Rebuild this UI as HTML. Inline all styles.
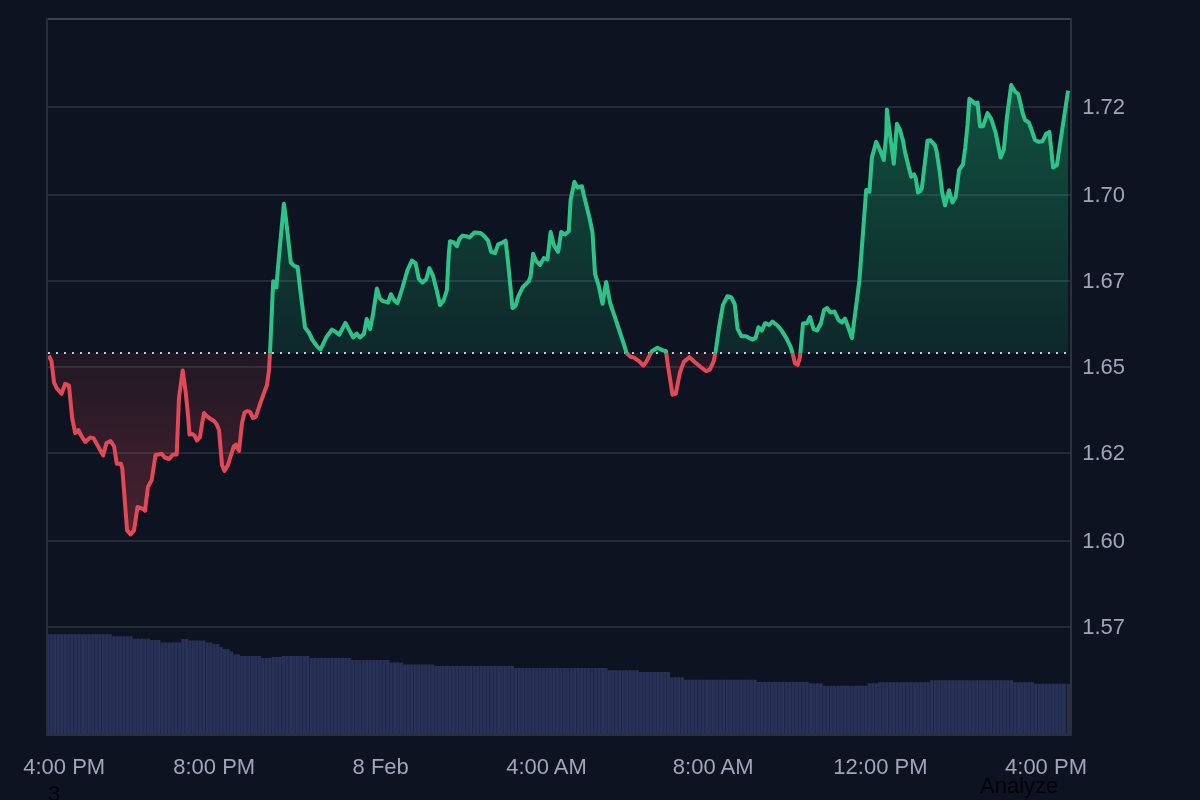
<!DOCTYPE html>
<html><head><meta charset="utf-8"><style>
html,body{margin:0;padding:0;background:#0d1320;width:1200px;height:800px;overflow:hidden}
svg{position:absolute;left:0;top:0;display:block;will-change:transform}
.ft{will-change:transform}
.ax text{font-family:"Liberation Sans",Arial,sans-serif;font-size:22px;fill:#a0a6ba}
.ft{position:absolute;font-family:"Liberation Sans",Arial,sans-serif;font-size:22px;color:#020408;line-height:1;white-space:nowrap}
</style></head><body>
<svg width="1200" height="800" viewBox="0 0 1200 800">
<defs>
<linearGradient id="gg" gradientUnits="userSpaceOnUse" x1="0" y1="85" x2="0" y2="353.0">
<stop offset="0" stop-color="#18be78" stop-opacity="0.36"/>
<stop offset="1" stop-color="#18be78" stop-opacity="0.12"/>
</linearGradient>
<linearGradient id="rg" gradientUnits="userSpaceOnUse" x1="0" y1="353.0" x2="0" y2="535">
<stop offset="0" stop-color="#e34856" stop-opacity="0.09"/>
<stop offset="1" stop-color="#e34856" stop-opacity="0.28"/>
</linearGradient>
<clipPath id="top"><rect x="0" y="0" width="1200" height="353.0"/></clipPath>
<clipPath id="bot"><rect x="0" y="353.0" width="1200" height="447.0"/></clipPath>
<pattern id="vb" patternUnits="userSpaceOnUse" x="45.62" y="0" width="3.4667" height="800">
<rect x="0" y="0" width="3.4667" height="800" fill="#283157"/>
<rect x="0" y="0" width="0.9" height="800" fill="#1f2747"/>
</pattern>
</defs>
<rect x="0" y="0" width="1200" height="800" fill="#0d1320"/>
<rect x="48" y="106" width="1022" height="2" fill="#252a37"/><rect x="48" y="194" width="1022" height="2" fill="#252a37"/><rect x="48" y="280" width="1022" height="2" fill="#252a37"/><rect x="48" y="366" width="1022" height="2" fill="#252a37"/><rect x="48" y="452" width="1022" height="2" fill="#252a37"/><rect x="48" y="540" width="1022" height="2" fill="#252a37"/><rect x="48" y="626" width="1022" height="2" fill="#252a37"/>
<path d="M47,735 L47,634.2 L111.94,634.2 L111.94,636.2 L132.74,636.2 L132.74,638.7 L150.07,638.7 L150.07,640 L160.47,640 L160.47,642.6 L181.27,642.6 L181.27,639 L188.2,639 L188.2,640.4 L205.54,640.4 L205.54,642.4 L212.47,642.4 L212.47,644 L219.41,644 L219.41,647 L222.87,647 L222.87,649 L229.81,649 L229.81,651.6 L233.27,651.6 L233.27,654.4 L240.21,654.4 L240.21,656 L261.01,656 L261.01,658 L271.41,658 L271.41,657 L281.81,657 L281.81,656 L309.54,656 L309.54,658 L351.14,658 L351.14,660 L389.27,660 L389.27,662.4 L403.14,662.4 L403.14,664.4 L434.34,664.4 L434.34,666 L514.07,666 L514.07,668 L607.68,668 L607.68,670.3 L638.88,670.3 L638.88,672 L670.08,672 L670.08,677.3 L683.94,677.3 L683.94,679.8 L756.74,679.8 L756.74,682 L808.74,682 L808.74,683.3 L822.61,683.3 L822.61,685.8 L867.68,685.8 L867.68,683.3 L878.08,683.3 L878.08,682.2 L930.08,682.2 L930.08,680.2 L1013.28,680.2 L1013.28,682.2 L1034.08,682.2 L1034.08,683.7 L1066.4,683.7 L1066.4,735 Z" fill="url(#vb)"/>
<rect x="1066.9" y="684" width="3.1" height="51" fill="#2a3044"/>
<path d="M48.8,355.6 L51.5,361.2 L54.0,382.5 L57.1,388.8 L61.5,393.8 L65.2,383.8 L69.0,385.6 L72.1,417.5 L75.2,433.1 L78.4,430.0 L81.5,436.2 L85.2,441.9 L90.2,437.5 L93.4,438.1 L98.2,446.5 L103.1,455.4 L106.5,443.0 L110.6,441.0 L114.1,446.5 L116.8,463.7 L121.0,463.7 L122.3,468.5 L127.1,530.4 L130.6,534.5 L134.0,530.4 L137.5,507.0 L138.2,507.0 L142.0,508.5 L145.0,510.7 L148.0,486.7 L151.7,480.0 L155.5,455.0 L158.0,454.5 L161.7,453.7 L164.7,457.5 L169.2,459.0 L173.0,454.5 L176.7,454.5 L179.0,397.5 L182.7,370.5 L185.7,392.2 L188.0,415.0 L189.5,434.5 L192.5,434.0 L194.5,435.5 L197.0,440.5 L200.0,437.0 L202.0,424.0 L204.0,413.0 L206.5,416.0 L210.0,418.5 L214.0,421.0 L216.5,424.0 L219.0,430.0 L222.0,465.0 L224.5,471.0 L228.0,465.0 L231.0,455.0 L234.0,446.0 L236.0,444.5 L239.0,451.0 L240.5,437.0 L242.0,423.0 L244.5,412.5 L247.5,411.0 L250.0,412.0 L253.0,418.0 L256.0,416.5 L260.0,404.0 L264.0,393.0 L267.0,385.0 L269.0,370.0 L270.0,353.0 L273.2,281.2 L276.4,287.5 L278.2,265.0 L283.9,203.8 L285.8,217.5 L290.8,262.5 L294.5,266.2 L297.6,267.0 L300.6,292.5 L305.0,327.5 L308.8,332.5 L312.5,340.0 L316.9,346.2 L320.6,349.4 L326.2,337.5 L331.9,329.6 L335.8,331.9 L339.2,334.7 L345.4,322.9 L348.7,329.1 L353.2,337.5 L356.6,333.6 L360.0,337.5 L363.9,334.1 L366.7,318.9 L370.1,329.1 L372.9,315.0 L376.9,288.6 L379.7,298.1 L382.5,300.9 L388.1,302.6 L390.9,294.2 L394.3,300.4 L397.5,303.1 L402.5,287.5 L407.5,270.0 L411.9,260.6 L415.6,263.1 L418.8,278.8 L422.5,282.5 L426.2,279.4 L429.4,268.1 L433.1,276.2 L436.9,291.2 L440.0,305.0 L443.8,300.0 L446.9,290.0 L448.8,253.8 L450.0,241.2 L453.8,242.5 L456.9,246.2 L459.4,238.8 L462.5,235.6 L466.2,236.2 L469.4,237.5 L474.4,232.5 L480.6,233.1 L483.8,235.6 L488.1,240.6 L491.2,251.9 L495.0,253.1 L498.1,244.4 L502.5,242.5 L505.6,240.6 L508.1,262.5 L512.5,308.1 L515.6,305.6 L518.1,296.9 L522.5,287.5 L528.8,281.2 L530.6,276.2 L533.1,253.8 L536.2,261.2 L540.0,265.0 L543.8,258.1 L547.5,259.4 L550.6,231.9 L553.8,245.0 L558.1,251.9 L561.2,231.9 L565.0,234.4 L568.8,231.2 L570.6,200.0 L574.4,181.9 L577.5,187.5 L581.9,186.2 L583.8,195.0 L589.4,217.5 L592.5,232.5 L595.0,273.8 L598.8,286.2 L602.5,303.8 L606.2,281.9 L610.0,302.5 L615.0,317.5 L620.0,332.5 L623.8,344.0 L626.6,353.0 L630.3,356.7 L634.0,357.6 L638.8,361.0 L643.4,365.6 L646.2,361.9 L651.9,351.1 L657.5,347.8 L662.2,350.1 L665.9,351.1 L667.8,364.7 L672.5,394.7 L675.8,393.7 L680.0,372.2 L683.8,361.9 L689.4,357.2 L695.0,362.3 L700.6,367.0 L706.2,371.2 L710.0,369.4 L713.8,360.9 L715.6,351.6 L719.0,327.7 L722.9,305.2 L727.4,296.2 L731.4,297.4 L734.7,304.1 L737.6,328.9 L741.5,336.2 L746.0,336.2 L752.2,339.6 L755.6,337.9 L758.4,327.2 L761.7,330.6 L765.1,323.2 L769.1,324.9 L772.4,321.6 L777.5,325.5 L782.0,331.1 L786.5,338.4 L790.4,346.3 L792.7,353.6 L794.9,363.2 L797.7,364.9 L800.0,357.0 L803.0,323.5 L807.0,323.0 L810.0,317.0 L813.5,329.0 L817.0,330.5 L821.0,323.0 L824.0,310.0 L827.0,308.0 L830.5,312.5 L834.5,311.5 L838.5,320.0 L842.0,322.5 L845.0,318.5 L848.5,328.0 L852.0,338.0 L859.4,280.5 L866.2,190.0 L869.4,191.9 L871.9,157.5 L876.2,141.9 L880.0,150.0 L883.8,160.0 L886.2,135.0 L886.9,109.4 L888.8,125.0 L891.2,143.8 L893.8,163.8 L896.9,123.8 L900.0,130.0 L903.1,141.2 L905.0,152.0 L907.2,161.0 L910.0,172.2 L911.2,176.7 L914.0,174.4 L915.7,177.8 L917.9,192.4 L920.2,191.3 L921.9,188.0 L927.5,140.7 L930.3,140.2 L934.8,145.2 L936.5,150.8 L939.8,172.2 L942.2,192.4 L945.0,205.3 L949.0,190.2 L952.4,202.5 L955.7,196.9 L959.1,170.0 L963.0,164.3 L965.3,147.5 L967.5,125.0 L969.4,98.8 L972.5,101.2 L975.0,103.8 L977.5,102.5 L980.0,126.2 L983.1,126.2 L987.5,113.1 L991.2,118.8 L995.6,132.5 L1000.6,157.5 L1003.8,150.0 L1006.9,117.5 L1011.2,85.0 L1015.0,91.5 L1018.1,93.8 L1020.0,101.2 L1022.5,112.5 L1025.0,120.0 L1028.8,122.5 L1031.2,128.8 L1035.0,140.0 L1038.8,141.9 L1042.5,141.2 L1046.2,133.8 L1049.4,131.9 L1053.1,167.5 L1056.9,165.0 L1062.5,127.5 L1068.1,90.6 L1068.1,353.0 L48.8,353.0 Z" fill="url(#gg)" clip-path="url(#top)"/>
<path d="M48.8,355.6 L51.5,361.2 L54.0,382.5 L57.1,388.8 L61.5,393.8 L65.2,383.8 L69.0,385.6 L72.1,417.5 L75.2,433.1 L78.4,430.0 L81.5,436.2 L85.2,441.9 L90.2,437.5 L93.4,438.1 L98.2,446.5 L103.1,455.4 L106.5,443.0 L110.6,441.0 L114.1,446.5 L116.8,463.7 L121.0,463.7 L122.3,468.5 L127.1,530.4 L130.6,534.5 L134.0,530.4 L137.5,507.0 L138.2,507.0 L142.0,508.5 L145.0,510.7 L148.0,486.7 L151.7,480.0 L155.5,455.0 L158.0,454.5 L161.7,453.7 L164.7,457.5 L169.2,459.0 L173.0,454.5 L176.7,454.5 L179.0,397.5 L182.7,370.5 L185.7,392.2 L188.0,415.0 L189.5,434.5 L192.5,434.0 L194.5,435.5 L197.0,440.5 L200.0,437.0 L202.0,424.0 L204.0,413.0 L206.5,416.0 L210.0,418.5 L214.0,421.0 L216.5,424.0 L219.0,430.0 L222.0,465.0 L224.5,471.0 L228.0,465.0 L231.0,455.0 L234.0,446.0 L236.0,444.5 L239.0,451.0 L240.5,437.0 L242.0,423.0 L244.5,412.5 L247.5,411.0 L250.0,412.0 L253.0,418.0 L256.0,416.5 L260.0,404.0 L264.0,393.0 L267.0,385.0 L269.0,370.0 L270.0,353.0 L273.2,281.2 L276.4,287.5 L278.2,265.0 L283.9,203.8 L285.8,217.5 L290.8,262.5 L294.5,266.2 L297.6,267.0 L300.6,292.5 L305.0,327.5 L308.8,332.5 L312.5,340.0 L316.9,346.2 L320.6,349.4 L326.2,337.5 L331.9,329.6 L335.8,331.9 L339.2,334.7 L345.4,322.9 L348.7,329.1 L353.2,337.5 L356.6,333.6 L360.0,337.5 L363.9,334.1 L366.7,318.9 L370.1,329.1 L372.9,315.0 L376.9,288.6 L379.7,298.1 L382.5,300.9 L388.1,302.6 L390.9,294.2 L394.3,300.4 L397.5,303.1 L402.5,287.5 L407.5,270.0 L411.9,260.6 L415.6,263.1 L418.8,278.8 L422.5,282.5 L426.2,279.4 L429.4,268.1 L433.1,276.2 L436.9,291.2 L440.0,305.0 L443.8,300.0 L446.9,290.0 L448.8,253.8 L450.0,241.2 L453.8,242.5 L456.9,246.2 L459.4,238.8 L462.5,235.6 L466.2,236.2 L469.4,237.5 L474.4,232.5 L480.6,233.1 L483.8,235.6 L488.1,240.6 L491.2,251.9 L495.0,253.1 L498.1,244.4 L502.5,242.5 L505.6,240.6 L508.1,262.5 L512.5,308.1 L515.6,305.6 L518.1,296.9 L522.5,287.5 L528.8,281.2 L530.6,276.2 L533.1,253.8 L536.2,261.2 L540.0,265.0 L543.8,258.1 L547.5,259.4 L550.6,231.9 L553.8,245.0 L558.1,251.9 L561.2,231.9 L565.0,234.4 L568.8,231.2 L570.6,200.0 L574.4,181.9 L577.5,187.5 L581.9,186.2 L583.8,195.0 L589.4,217.5 L592.5,232.5 L595.0,273.8 L598.8,286.2 L602.5,303.8 L606.2,281.9 L610.0,302.5 L615.0,317.5 L620.0,332.5 L623.8,344.0 L626.6,353.0 L630.3,356.7 L634.0,357.6 L638.8,361.0 L643.4,365.6 L646.2,361.9 L651.9,351.1 L657.5,347.8 L662.2,350.1 L665.9,351.1 L667.8,364.7 L672.5,394.7 L675.8,393.7 L680.0,372.2 L683.8,361.9 L689.4,357.2 L695.0,362.3 L700.6,367.0 L706.2,371.2 L710.0,369.4 L713.8,360.9 L715.6,351.6 L719.0,327.7 L722.9,305.2 L727.4,296.2 L731.4,297.4 L734.7,304.1 L737.6,328.9 L741.5,336.2 L746.0,336.2 L752.2,339.6 L755.6,337.9 L758.4,327.2 L761.7,330.6 L765.1,323.2 L769.1,324.9 L772.4,321.6 L777.5,325.5 L782.0,331.1 L786.5,338.4 L790.4,346.3 L792.7,353.6 L794.9,363.2 L797.7,364.9 L800.0,357.0 L803.0,323.5 L807.0,323.0 L810.0,317.0 L813.5,329.0 L817.0,330.5 L821.0,323.0 L824.0,310.0 L827.0,308.0 L830.5,312.5 L834.5,311.5 L838.5,320.0 L842.0,322.5 L845.0,318.5 L848.5,328.0 L852.0,338.0 L859.4,280.5 L866.2,190.0 L869.4,191.9 L871.9,157.5 L876.2,141.9 L880.0,150.0 L883.8,160.0 L886.2,135.0 L886.9,109.4 L888.8,125.0 L891.2,143.8 L893.8,163.8 L896.9,123.8 L900.0,130.0 L903.1,141.2 L905.0,152.0 L907.2,161.0 L910.0,172.2 L911.2,176.7 L914.0,174.4 L915.7,177.8 L917.9,192.4 L920.2,191.3 L921.9,188.0 L927.5,140.7 L930.3,140.2 L934.8,145.2 L936.5,150.8 L939.8,172.2 L942.2,192.4 L945.0,205.3 L949.0,190.2 L952.4,202.5 L955.7,196.9 L959.1,170.0 L963.0,164.3 L965.3,147.5 L967.5,125.0 L969.4,98.8 L972.5,101.2 L975.0,103.8 L977.5,102.5 L980.0,126.2 L983.1,126.2 L987.5,113.1 L991.2,118.8 L995.6,132.5 L1000.6,157.5 L1003.8,150.0 L1006.9,117.5 L1011.2,85.0 L1015.0,91.5 L1018.1,93.8 L1020.0,101.2 L1022.5,112.5 L1025.0,120.0 L1028.8,122.5 L1031.2,128.8 L1035.0,140.0 L1038.8,141.9 L1042.5,141.2 L1046.2,133.8 L1049.4,131.9 L1053.1,167.5 L1056.9,165.0 L1062.5,127.5 L1068.1,90.6 L1068.1,353.0 L48.8,353.0 Z" fill="url(#rg)" clip-path="url(#bot)"/>
<line x1="48" y1="353" x2="1070" y2="353" stroke="#c9ccd5" stroke-width="2" stroke-dasharray="2 6"/>
<path d="M48.8,355.6 L51.5,361.2 L54.0,382.5 L57.1,388.8 L61.5,393.8 L65.2,383.8 L69.0,385.6 L72.1,417.5 L75.2,433.1 L78.4,430.0 L81.5,436.2 L85.2,441.9 L90.2,437.5 L93.4,438.1 L98.2,446.5 L103.1,455.4 L106.5,443.0 L110.6,441.0 L114.1,446.5 L116.8,463.7 L121.0,463.7 L122.3,468.5 L127.1,530.4 L130.6,534.5 L134.0,530.4 L137.5,507.0 L138.2,507.0 L142.0,508.5 L145.0,510.7 L148.0,486.7 L151.7,480.0 L155.5,455.0 L158.0,454.5 L161.7,453.7 L164.7,457.5 L169.2,459.0 L173.0,454.5 L176.7,454.5 L179.0,397.5 L182.7,370.5 L185.7,392.2 L188.0,415.0 L189.5,434.5 L192.5,434.0 L194.5,435.5 L197.0,440.5 L200.0,437.0 L202.0,424.0 L204.0,413.0 L206.5,416.0 L210.0,418.5 L214.0,421.0 L216.5,424.0 L219.0,430.0 L222.0,465.0 L224.5,471.0 L228.0,465.0 L231.0,455.0 L234.0,446.0 L236.0,444.5 L239.0,451.0 L240.5,437.0 L242.0,423.0 L244.5,412.5 L247.5,411.0 L250.0,412.0 L253.0,418.0 L256.0,416.5 L260.0,404.0 L264.0,393.0 L267.0,385.0 L269.0,370.0 L270.0,353.0 L273.2,281.2 L276.4,287.5 L278.2,265.0 L283.9,203.8 L285.8,217.5 L290.8,262.5 L294.5,266.2 L297.6,267.0 L300.6,292.5 L305.0,327.5 L308.8,332.5 L312.5,340.0 L316.9,346.2 L320.6,349.4 L326.2,337.5 L331.9,329.6 L335.8,331.9 L339.2,334.7 L345.4,322.9 L348.7,329.1 L353.2,337.5 L356.6,333.6 L360.0,337.5 L363.9,334.1 L366.7,318.9 L370.1,329.1 L372.9,315.0 L376.9,288.6 L379.7,298.1 L382.5,300.9 L388.1,302.6 L390.9,294.2 L394.3,300.4 L397.5,303.1 L402.5,287.5 L407.5,270.0 L411.9,260.6 L415.6,263.1 L418.8,278.8 L422.5,282.5 L426.2,279.4 L429.4,268.1 L433.1,276.2 L436.9,291.2 L440.0,305.0 L443.8,300.0 L446.9,290.0 L448.8,253.8 L450.0,241.2 L453.8,242.5 L456.9,246.2 L459.4,238.8 L462.5,235.6 L466.2,236.2 L469.4,237.5 L474.4,232.5 L480.6,233.1 L483.8,235.6 L488.1,240.6 L491.2,251.9 L495.0,253.1 L498.1,244.4 L502.5,242.5 L505.6,240.6 L508.1,262.5 L512.5,308.1 L515.6,305.6 L518.1,296.9 L522.5,287.5 L528.8,281.2 L530.6,276.2 L533.1,253.8 L536.2,261.2 L540.0,265.0 L543.8,258.1 L547.5,259.4 L550.6,231.9 L553.8,245.0 L558.1,251.9 L561.2,231.9 L565.0,234.4 L568.8,231.2 L570.6,200.0 L574.4,181.9 L577.5,187.5 L581.9,186.2 L583.8,195.0 L589.4,217.5 L592.5,232.5 L595.0,273.8 L598.8,286.2 L602.5,303.8 L606.2,281.9 L610.0,302.5 L615.0,317.5 L620.0,332.5 L623.8,344.0 L626.6,353.0 L630.3,356.7 L634.0,357.6 L638.8,361.0 L643.4,365.6 L646.2,361.9 L651.9,351.1 L657.5,347.8 L662.2,350.1 L665.9,351.1 L667.8,364.7 L672.5,394.7 L675.8,393.7 L680.0,372.2 L683.8,361.9 L689.4,357.2 L695.0,362.3 L700.6,367.0 L706.2,371.2 L710.0,369.4 L713.8,360.9 L715.6,351.6 L719.0,327.7 L722.9,305.2 L727.4,296.2 L731.4,297.4 L734.7,304.1 L737.6,328.9 L741.5,336.2 L746.0,336.2 L752.2,339.6 L755.6,337.9 L758.4,327.2 L761.7,330.6 L765.1,323.2 L769.1,324.9 L772.4,321.6 L777.5,325.5 L782.0,331.1 L786.5,338.4 L790.4,346.3 L792.7,353.6 L794.9,363.2 L797.7,364.9 L800.0,357.0 L803.0,323.5 L807.0,323.0 L810.0,317.0 L813.5,329.0 L817.0,330.5 L821.0,323.0 L824.0,310.0 L827.0,308.0 L830.5,312.5 L834.5,311.5 L838.5,320.0 L842.0,322.5 L845.0,318.5 L848.5,328.0 L852.0,338.0 L859.4,280.5 L866.2,190.0 L869.4,191.9 L871.9,157.5 L876.2,141.9 L880.0,150.0 L883.8,160.0 L886.2,135.0 L886.9,109.4 L888.8,125.0 L891.2,143.8 L893.8,163.8 L896.9,123.8 L900.0,130.0 L903.1,141.2 L905.0,152.0 L907.2,161.0 L910.0,172.2 L911.2,176.7 L914.0,174.4 L915.7,177.8 L917.9,192.4 L920.2,191.3 L921.9,188.0 L927.5,140.7 L930.3,140.2 L934.8,145.2 L936.5,150.8 L939.8,172.2 L942.2,192.4 L945.0,205.3 L949.0,190.2 L952.4,202.5 L955.7,196.9 L959.1,170.0 L963.0,164.3 L965.3,147.5 L967.5,125.0 L969.4,98.8 L972.5,101.2 L975.0,103.8 L977.5,102.5 L980.0,126.2 L983.1,126.2 L987.5,113.1 L991.2,118.8 L995.6,132.5 L1000.6,157.5 L1003.8,150.0 L1006.9,117.5 L1011.2,85.0 L1015.0,91.5 L1018.1,93.8 L1020.0,101.2 L1022.5,112.5 L1025.0,120.0 L1028.8,122.5 L1031.2,128.8 L1035.0,140.0 L1038.8,141.9 L1042.5,141.2 L1046.2,133.8 L1049.4,131.9 L1053.1,167.5 L1056.9,165.0 L1062.5,127.5 L1068.1,90.6" fill="none" stroke="#2cc389" stroke-width="4" stroke-linejoin="round" stroke-linecap="butt" clip-path="url(#top)"/>
<path d="M48.8,355.6 L51.5,361.2 L54.0,382.5 L57.1,388.8 L61.5,393.8 L65.2,383.8 L69.0,385.6 L72.1,417.5 L75.2,433.1 L78.4,430.0 L81.5,436.2 L85.2,441.9 L90.2,437.5 L93.4,438.1 L98.2,446.5 L103.1,455.4 L106.5,443.0 L110.6,441.0 L114.1,446.5 L116.8,463.7 L121.0,463.7 L122.3,468.5 L127.1,530.4 L130.6,534.5 L134.0,530.4 L137.5,507.0 L138.2,507.0 L142.0,508.5 L145.0,510.7 L148.0,486.7 L151.7,480.0 L155.5,455.0 L158.0,454.5 L161.7,453.7 L164.7,457.5 L169.2,459.0 L173.0,454.5 L176.7,454.5 L179.0,397.5 L182.7,370.5 L185.7,392.2 L188.0,415.0 L189.5,434.5 L192.5,434.0 L194.5,435.5 L197.0,440.5 L200.0,437.0 L202.0,424.0 L204.0,413.0 L206.5,416.0 L210.0,418.5 L214.0,421.0 L216.5,424.0 L219.0,430.0 L222.0,465.0 L224.5,471.0 L228.0,465.0 L231.0,455.0 L234.0,446.0 L236.0,444.5 L239.0,451.0 L240.5,437.0 L242.0,423.0 L244.5,412.5 L247.5,411.0 L250.0,412.0 L253.0,418.0 L256.0,416.5 L260.0,404.0 L264.0,393.0 L267.0,385.0 L269.0,370.0 L270.0,353.0 L273.2,281.2 L276.4,287.5 L278.2,265.0 L283.9,203.8 L285.8,217.5 L290.8,262.5 L294.5,266.2 L297.6,267.0 L300.6,292.5 L305.0,327.5 L308.8,332.5 L312.5,340.0 L316.9,346.2 L320.6,349.4 L326.2,337.5 L331.9,329.6 L335.8,331.9 L339.2,334.7 L345.4,322.9 L348.7,329.1 L353.2,337.5 L356.6,333.6 L360.0,337.5 L363.9,334.1 L366.7,318.9 L370.1,329.1 L372.9,315.0 L376.9,288.6 L379.7,298.1 L382.5,300.9 L388.1,302.6 L390.9,294.2 L394.3,300.4 L397.5,303.1 L402.5,287.5 L407.5,270.0 L411.9,260.6 L415.6,263.1 L418.8,278.8 L422.5,282.5 L426.2,279.4 L429.4,268.1 L433.1,276.2 L436.9,291.2 L440.0,305.0 L443.8,300.0 L446.9,290.0 L448.8,253.8 L450.0,241.2 L453.8,242.5 L456.9,246.2 L459.4,238.8 L462.5,235.6 L466.2,236.2 L469.4,237.5 L474.4,232.5 L480.6,233.1 L483.8,235.6 L488.1,240.6 L491.2,251.9 L495.0,253.1 L498.1,244.4 L502.5,242.5 L505.6,240.6 L508.1,262.5 L512.5,308.1 L515.6,305.6 L518.1,296.9 L522.5,287.5 L528.8,281.2 L530.6,276.2 L533.1,253.8 L536.2,261.2 L540.0,265.0 L543.8,258.1 L547.5,259.4 L550.6,231.9 L553.8,245.0 L558.1,251.9 L561.2,231.9 L565.0,234.4 L568.8,231.2 L570.6,200.0 L574.4,181.9 L577.5,187.5 L581.9,186.2 L583.8,195.0 L589.4,217.5 L592.5,232.5 L595.0,273.8 L598.8,286.2 L602.5,303.8 L606.2,281.9 L610.0,302.5 L615.0,317.5 L620.0,332.5 L623.8,344.0 L626.6,353.0 L630.3,356.7 L634.0,357.6 L638.8,361.0 L643.4,365.6 L646.2,361.9 L651.9,351.1 L657.5,347.8 L662.2,350.1 L665.9,351.1 L667.8,364.7 L672.5,394.7 L675.8,393.7 L680.0,372.2 L683.8,361.9 L689.4,357.2 L695.0,362.3 L700.6,367.0 L706.2,371.2 L710.0,369.4 L713.8,360.9 L715.6,351.6 L719.0,327.7 L722.9,305.2 L727.4,296.2 L731.4,297.4 L734.7,304.1 L737.6,328.9 L741.5,336.2 L746.0,336.2 L752.2,339.6 L755.6,337.9 L758.4,327.2 L761.7,330.6 L765.1,323.2 L769.1,324.9 L772.4,321.6 L777.5,325.5 L782.0,331.1 L786.5,338.4 L790.4,346.3 L792.7,353.6 L794.9,363.2 L797.7,364.9 L800.0,357.0 L803.0,323.5 L807.0,323.0 L810.0,317.0 L813.5,329.0 L817.0,330.5 L821.0,323.0 L824.0,310.0 L827.0,308.0 L830.5,312.5 L834.5,311.5 L838.5,320.0 L842.0,322.5 L845.0,318.5 L848.5,328.0 L852.0,338.0 L859.4,280.5 L866.2,190.0 L869.4,191.9 L871.9,157.5 L876.2,141.9 L880.0,150.0 L883.8,160.0 L886.2,135.0 L886.9,109.4 L888.8,125.0 L891.2,143.8 L893.8,163.8 L896.9,123.8 L900.0,130.0 L903.1,141.2 L905.0,152.0 L907.2,161.0 L910.0,172.2 L911.2,176.7 L914.0,174.4 L915.7,177.8 L917.9,192.4 L920.2,191.3 L921.9,188.0 L927.5,140.7 L930.3,140.2 L934.8,145.2 L936.5,150.8 L939.8,172.2 L942.2,192.4 L945.0,205.3 L949.0,190.2 L952.4,202.5 L955.7,196.9 L959.1,170.0 L963.0,164.3 L965.3,147.5 L967.5,125.0 L969.4,98.8 L972.5,101.2 L975.0,103.8 L977.5,102.5 L980.0,126.2 L983.1,126.2 L987.5,113.1 L991.2,118.8 L995.6,132.5 L1000.6,157.5 L1003.8,150.0 L1006.9,117.5 L1011.2,85.0 L1015.0,91.5 L1018.1,93.8 L1020.0,101.2 L1022.5,112.5 L1025.0,120.0 L1028.8,122.5 L1031.2,128.8 L1035.0,140.0 L1038.8,141.9 L1042.5,141.2 L1046.2,133.8 L1049.4,131.9 L1053.1,167.5 L1056.9,165.0 L1062.5,127.5 L1068.1,90.6" fill="none" stroke="#e34856" stroke-width="4" stroke-linejoin="round" stroke-linecap="butt" clip-path="url(#bot)"/>
<rect x="46" y="18" width="1026" height="2" fill="#3e4351"/>
<rect x="46" y="18" width="2" height="718" fill="#272c39"/>
<rect x="1070" y="18" width="2" height="718" fill="#2c313e"/>
<rect x="46" y="734" width="1026" height="2" fill="#292e40"/>
<g class="ax"><text x="1082.2" y="113.8">1.72</text><text x="1082.2" y="201.8">1.70</text><text x="1082.2" y="287.8">1.67</text><text x="1082.2" y="373.8">1.65</text><text x="1082.2" y="459.8">1.62</text><text x="1082.2" y="547.8">1.60</text><text x="1082.2" y="633.8">1.57</text><text x="64.2" y="773.6" text-anchor="middle">4:00 PM</text><text x="214.2" y="773.6" text-anchor="middle">8:00 PM</text><text x="380.7" y="773.6" text-anchor="middle">8 Feb</text><text x="546.5" y="773.6" text-anchor="middle">4:00 AM</text><text x="713.2" y="773.6" text-anchor="middle">8:00 AM</text><text x="880.4" y="773.6" text-anchor="middle">12:00 PM</text><text x="1046" y="773.6" text-anchor="middle">4:00 PM</text></g>
</svg>
<div class="ft" style="left:47.5px;top:783px">3</div>
<div class="ft" style="left:980.3px;top:775px">Analyze</div>
</body></html>
